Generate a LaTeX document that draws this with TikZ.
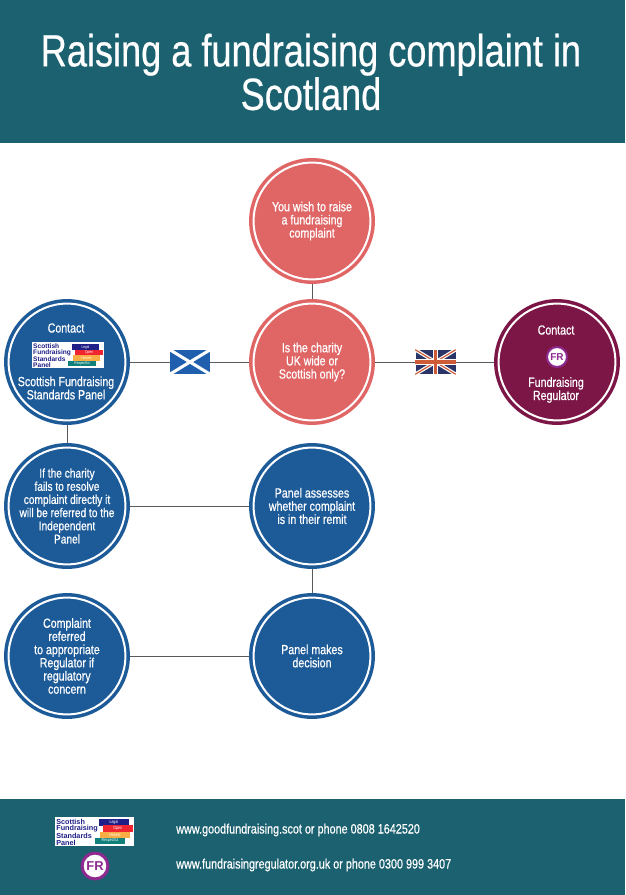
\documentclass[tikz,border=0pt]{standalone}
\usepackage{fontspec}
\setmainfont[FakeStretch=0.8]{Liberation Sans}
\newfontfamily\badgefont{Liberation Sans}
\definecolor{bandteal}{HTML}{1B6170}
\definecolor{coral}{HTML}{E06666}
\definecolor{panelblue}{HTML}{1C5A98}
\definecolor{maroon}{HTML}{7C1647}
\definecolor{frpurple}{HTML}{8E2A8F}
\definecolor{logonavy}{HTML}{1F1F87}
\definecolor{logored}{HTML}{F0252F}
\definecolor{logoorange}{HTML}{F9AE45}
\definecolor{logogreen}{HTML}{12807A}
\definecolor{flagblue}{HTML}{1F5FAE}
\definecolor{jackblue}{HTML}{2B3467}
\definecolor{jackred}{HTML}{CF5A36}
\tikzset{
  bubbletext/.style={text=white,align=center,
    font=\fontsize{11.3}{11.2}\selectfont\addfontfeature{FakeBold=0.6}},
  bubble/.style={bubbletext,circle,minimum size=99.3pt,line width=3pt,inner sep=-8pt,
    outer sep=3.85pt,double=white,double distance=1.7pt},
  link/.style={draw=black!65,line width=.8pt},
  flagbox/.style={rectangle,minimum width=34pt,minimum height=20.5pt,inner sep=0pt},
  frbadge/.style={circle,fill=white,draw=frpurple,text=frpurple,inner sep=0pt},
  logobar/.style={rectangle,inner sep=0pt,text=white,minimum width=23pt,minimum height=4.8pt,
    font=\fontsize{3.4}{3.4}\selectfont},
  pics/panellogo/.style={code={
    \fill[white] (0,0) rectangle (72,26);
    \node[anchor=north west,inner sep=0pt,align=left,text=logonavy,
      font=\badgefont\bfseries\fontsize{5.6}{5}\selectfont] (-name) at (1,1.5)
      {Scottish\\Fundraising\\Standards\\Panel};
    \node[logobar,fill=logonavy] (-legal) at (53.5,5) {Legal};
    \node[logobar,fill=logored] (-open) at (57,10.5) {Open};
    \node[logobar,fill=logoorange] (-honest) at (54.5,16) {Honest};
    \node[logobar,fill=logogreen] (-respectful) at (50,21.5) {Respectful};
  }}
}
\begin{document}
\begin{tikzpicture}[x=.85pt,y=-.85pt]
  \useasboundingbox (0,0) rectangle (625,895);
  \fill[bandteal] (0,0) rectangle (625,143);
  \fill[bandteal] (0,799) rectangle (625,895);

  \node[text=white,align=center,font=\fontsize{38.4}{37}\selectfont\addfontfeature{FakeBold=0.5}] (title) at (311,72)
    {Raising a fundraising complaint in\\Scotland};

  \node[bubble,draw=coral,fill=coral] (wish) at (312,221) {You wish to raise\\a fundraising\\complaint};
  \node[bubble,draw=coral,fill=coral] (charity) at (312,362) {Is the charity\\UK wide or\\Scottish only?};
  \node[bubble,draw=panelblue,fill=panelblue] (panel) at (67,362) {};
  \node[bubble,draw=maroon,fill=maroon] (regulator) at (557,362) {};
  \node[bubble,draw=panelblue,fill=panelblue,font=\fontsize{10.8}{11.2}\selectfont\addfontfeature{FakeBold=0.6}] (fails) at (67,506)
    {If the charity\\fails to resolve\\complaint directly it\\will be referred to the\\Independent\\Panel};
  \node[bubble,draw=panelblue,fill=panelblue] (assess) at (312,506)
    {Panel assesses\\whether complaint\\is in their remit};
  \node[bubble,draw=panelblue,fill=panelblue] (referred) at (67,656)
    {Complaint\\referred\\to appropriate\\Regulator if\\regulatory\\concern};
  \node[bubble,draw=panelblue,fill=panelblue] (decision) at (312,656) {Panel makes\\decision};

  \node[bubbletext] (panelcontact) at (66,328) {Contact};
  \node[bubbletext] (panelname) at (66,388) {Scottish Fundraising\\Standards Panel};
  \pic (panellogo) at (32,342) {panellogo};
  \node[bubbletext] (regcontact) at (556,330) {Contact};
  \node[frbadge,line width=1.7pt,minimum size=17pt,font=\badgefont\bfseries\fontsize{8.5}{8.5}\selectfont] (regbadge) at (557,357) {FR};
  \node[bubbletext] (regname) at (556,390) {Fundraising\\Regulator};

  \node[flagbox,fill=flagblue] (saltire) at (190,362) {};
  \draw[white,line width=2.6pt] (saltire.north west) -- (saltire.south east)
    (saltire.south west) -- (saltire.north east);
  \node[flagbox,fill=jackblue] (jack) at (435.5,362) {};
  \draw[white,line width=3pt] (jack.north west) -- (jack.south east)
    (jack.south west) -- (jack.north east);
  \draw[jackred,line width=1pt] (jack.north west) -- (jack.south east)
    (jack.south west) -- (jack.north east);
  \draw[white,line width=5pt] (jack.north) -- (jack.south) (jack.west) -- (jack.east);
  \draw[jackred,line width=3.2pt] (jack.north) -- (jack.south) (jack.west) -- (jack.east);

  \draw[link] (wish) -- (charity);
  \draw[link] (panel) -- (saltire);
  \draw[link] (saltire) -- (charity);
  \draw[link] (charity) -- (jack);
  \draw[link] (jack) -- (regulator);
  \draw[link] (panel) -- (fails);
  \draw[link] (fails) -- (assess);
  \draw[link] (assess) -- (decision);
  \draw[link] (referred) -- (decision);

  \pic[scale=1.1,transform shape] (footlogo) at (55,817) {panellogo};
  \node[frbadge,line width=2.6pt,minimum size=22pt,font=\badgefont\bfseries\fontsize{11}{11}\selectfont] (footbadge) at (95,866) {FR};
  \node[anchor=west,inner sep=0pt,text=white,font=\fontsize{11.5}{12}\selectfont\addfontfeature{FakeBold=0.6}] (footpanel) at (176,830)
    {www.goodfundraising.scot or phone 0808 1642520};
  \node[anchor=west,inner sep=0pt,text=white,font=\fontsize{11.5}{12}\selectfont\addfontfeature{FakeBold=0.6}] (footregulator) at (176,865)
    {www.fundraisingregulator.org.uk or phone 0300 999 3407};
\end{tikzpicture}
\end{document}
